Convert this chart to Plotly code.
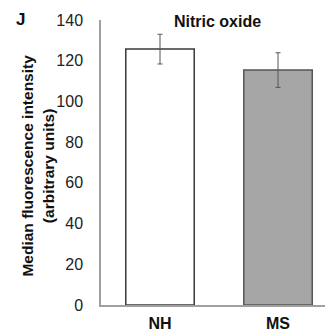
import plotly.graph_objects as go

categories = ["NH", "MS"]
values = [125.7, 115.4]
errors = [7.3, 8.5]
fill_colors = ["#ffffff", "#a6a6a6"]
line_colors = ["#3a3a3a", "#555555"]
y_ticks = [0, 20, 40, 60, 80, 100, 120, 140]

FONT = "Liberation Sans, Arial, sans-serif"

fig = go.Figure()
fig.add_trace(go.Bar(
    x=categories, y=values, width=0.58,
    marker=dict(color=fill_colors, line=dict(color=line_colors, width=1.5)),
    error_y=dict(type="data", array=errors, visible=True, color="#555555",
                 thickness=1, width=2.5),
))

fig.update_layout(
    width=325, height=333,
    margin=dict(l=101, r=0, t=20, b=28),
    paper_bgcolor="white", plot_bgcolor="white",
    showlegend=False,
    font=dict(family=FONT, size=16, color="#222222"),
    xaxis=dict(type="category", range=[-0.5, 1.398], showline=True,
               linecolor="#a0a0a0", linewidth=1.5, ticks="",
               tickfont=dict(family=FONT, size=16, color="#111111", weight="bold"),
               showgrid=False, zeroline=False, ticklabelstandoff=3),
    yaxis=dict(range=[0, 140], tickvals=y_ticks, showline=True,
               linecolor="#a0a0a0", linewidth=1.5, ticks="", showgrid=False,
               zeroline=False, tickfont=dict(family=FONT, size=16, color="#222222"),
               ticklabelstandoff=13),
    annotations=[
        dict(text="Nitric oxide", xref="paper", yref="paper", x=0.518, y=0.993,
             xanchor="center", yanchor="middle", showarrow=False,
             font=dict(family=FONT, size=16, color="#111111", weight="bold")),
        dict(text="J", xref="paper", yref="paper", x=-0.3616, y=1.0035,
             xanchor="center", yanchor="middle", showarrow=False,
             font=dict(family=FONT, size=17, color="#111111", weight="bold")),
        dict(text="Median fluorescence intensity<br>(arbitrary units)",
             xref="paper", yref="paper", x=-0.2835, y=0.491, textangle=-90,
             xanchor="center", yanchor="middle", showarrow=False,
             font=dict(family=FONT, size=15.5, color="#111111", weight="bold")),
    ],
)

fig.write_html("out.html")
